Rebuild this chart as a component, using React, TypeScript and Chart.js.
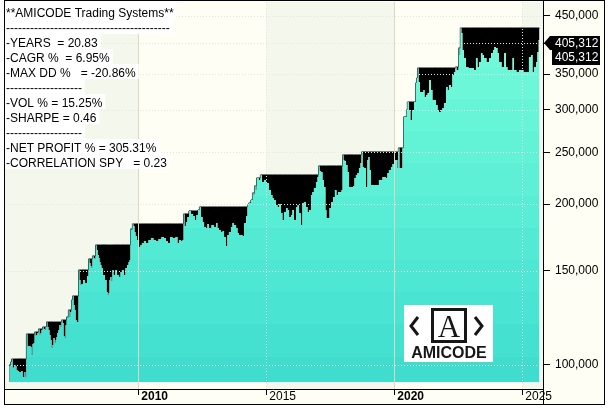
import React, { useEffect, useRef } from "react";
import { Chart, registerables } from "chart.js";

Chart.register(...registerables);

const FONT = "'Liberation Sans', Arial, Helvetica, sans-serif";
Chart.defaults.font.family = FONT;
Chart.defaults.font.size = 12;
Chart.defaults.color = "#000";

// ---- data (decimal year, equity value) ----
const dates: number[] = [
  2004.95, 2004.97, 2004.99, 2005.03, 2005.07, 2005.11, 2005.15, 2005.18, 2005.22, 2005.26, 2005.30, 2005.38, 2005.46, 2005.50, 2005.54, 2005.57, 2005.61, 2005.65,
  2005.69, 2005.77, 2005.81, 2005.85, 2005.89, 2005.93, 2005.97, 2006.00, 2006.04, 2006.08, 2006.12, 2006.16, 2006.20, 2006.24, 2006.28, 2006.32, 2006.36, 2006.40, 2006.43,
  2006.47, 2006.51, 2006.55, 2006.59, 2006.63, 2006.67, 2006.71, 2006.75, 2006.79, 2006.82, 2006.86, 2006.90, 2006.94, 2006.98, 2007.02,
  2007.06, 2007.10, 2007.14, 2007.18, 2007.22, 2007.25, 2007.29, 2007.33, 2007.37, 2007.41, 2007.45, 2007.49, 2007.53, 2007.57, 2007.61, 2007.65,
  2007.68, 2007.72, 2007.76, 2007.80, 2007.88, 2007.96, 2008.04, 2008.07, 2008.11, 2008.15, 2008.19, 2008.23, 2008.27, 2008.31, 2008.35,
  2008.39, 2008.43, 2008.47, 2008.50, 2008.54, 2008.58, 2008.66, 2008.74, 2008.78, 2008.82, 2008.86, 2008.89, 2008.93, 2008.97, 2009.01, 2009.05, 2009.13, 2009.21, 2009.29, 2009.32, 2009.40, 2009.48, 2009.52, 2009.60, 2009.64, 2009.68, 2009.71, 2009.75, 2009.79,
  2009.83, 2009.87, 2009.91, 2009.99, 2010.07, 2010.10, 2010.18, 2010.26, 2010.34, 2010.46, 2010.53, 2010.65, 2010.73, 2010.85, 2010.96, 2011.04, 2011.12, 2011.20, 2011.28, 2011.39, 2011.51, 2011.55, 2011.63, 2011.71, 2011.75, 2011.79, 2011.82, 2011.90, 2011.94, 2012.02, 2012.10, 2012.18, 2012.25, 2012.29, 2012.37, 2012.41,
  2012.49, 2012.53, 2012.61, 2012.68, 2012.72, 2012.80, 2012.92, 2013.00, 2013.07, 2013.11, 2013.19, 2013.27, 2013.31, 2013.39, 2013.46, 2013.50, 2013.58, 2013.66, 2013.70, 2013.78, 2013.86, 2013.89, 2013.97, 2014.05, 2014.09, 2014.17, 2014.25,
  2014.28, 2014.36, 2014.44, 2014.48, 2014.52, 2014.56, 2014.60, 2014.64, 2014.68, 2014.75, 2014.79, 2014.87, 2014.95, 2015.03, 2015.07, 2015.14, 2015.22, 2015.26, 2015.34, 2015.42, 2015.46, 2015.54, 2015.61, 2015.65, 2015.73, 2015.81, 2015.85, 2015.93,
  2016.00, 2016.04, 2016.12, 2016.20, 2016.24, 2016.32, 2016.39, 2016.43, 2016.51, 2016.59, 2016.63, 2016.71, 2016.78, 2016.82, 2016.90, 2016.98, 2017.02, 2017.06,
  2017.10, 2017.18, 2017.21, 2017.29, 2017.33, 2017.37, 2017.45, 2017.49, 2017.57, 2017.64, 2017.72, 2017.76, 2017.84, 2017.92, 2017.96,
  2018.00, 2018.03, 2018.07, 2018.15, 2018.19, 2018.27, 2018.35, 2018.43, 2018.46, 2018.54, 2018.58, 2018.66, 2018.70, 2018.74, 2018.78, 2018.86, 2018.93, 2018.97,
  2019.01, 2019.05, 2019.13, 2019.25, 2019.36, 2019.44, 2019.52, 2019.56, 2019.64, 2019.71, 2019.75, 2019.83, 2019.91, 2019.95,
  2020.03, 2020.10, 2020.14, 2020.18, 2020.22, 2020.30, 2020.34, 2020.38, 2020.46, 2020.49, 2020.53, 2020.61, 2020.65, 2020.73, 2020.81, 2020.85, 2020.89, 2020.93, 2020.96,
  2021.04, 2021.12, 2021.16, 2021.20, 2021.28, 2021.32, 2021.39, 2021.47, 2021.51, 2021.59, 2021.67, 2021.71, 2021.78, 2021.86, 2021.90, 2021.98,
  2022.06, 2022.10, 2022.17, 2022.25, 2022.29, 2022.37, 2022.41, 2022.45, 2022.49, 2022.53, 2022.56, 2022.60,
  2022.64, 2022.68, 2022.76, 2022.84, 2022.95, 2023.07, 2023.15, 2023.23, 2023.27, 2023.35, 2023.42, 2023.46, 2023.54, 2023.66, 2023.74, 2023.82, 2023.89, 2023.93,
  2024.01, 2024.05, 2024.13, 2024.25, 2024.32, 2024.40, 2024.44, 2024.52, 2024.60, 2024.64, 2024.71, 2024.83, 2024.91, 2024.99,
  2025.10, 2025.22, 2025.30, 2025.38, 2025.42, 2025.50, 2025.57, 2025.61, 2025.67,
];

const equity: number[] = [
  100000, 93000, 99570, 101300, 102620, 98720, 99140, 100000, 99570, 97870, 97450, 97030, 97450, 94960, 94960, 97030, 94960, 114280,
  108530, 108530, 108060, 104400, 109460, 109940, 115270, 113300, 113790, 114780, 116770, 113790, 114780, 116270, 117780, 116770, 116270, 117780, 120350,
  117780, 116270, 113790, 111370, 107590, 108990, 112330, 109940, 111370, 112820, 114780, 116270, 118800, 117780, 121390,
  119830, 113300, 112330, 118800, 122970, 122440, 126730, 122970, 125640, 132310, 134610, 129490, 126730, 121390, 120350, 120350,
  150560, 144210, 141140, 141750, 144210, 142360, 146710, 157870, 155170, 153170, 151860, 159920, 158550, 157870, 167680,
  164110, 160610, 158550, 155840, 153840, 151860, 147350, 144210, 136940, 135190, 136350, 144210, 146080, 143590, 150560, 147350, 150560, 147350, 146080, 149260, 150560, 147350, 151860, 153840, 155840, 157190, 179640, 178870, 183560,
  181980, 177340, 174310, 171330, 166240, 167680, 169130, 170590, 169130, 171330, 172810, 171330, 170590, 172070, 173560, 172810, 170590, 169130, 173560, 172810, 173560, 169130, 171330, 170590, 171330, 191640, 181980, 185150, 189190, 194130, 191640, 190000, 186750, 190810, 194970, 197510,
  189190, 185150, 181200, 180420, 183560, 180420, 182770, 181200, 184350, 180420, 178870, 177340, 178100, 173560, 166960, 175060, 177340, 181200, 184350, 182770, 180420, 176580, 175060, 175060, 174310, 184350, 190000,
  199210, 200940, 203550, 209790, 207980, 216210, 212510, 223790, 223790, 221870, 226700, 219970, 221870, 219020, 219020, 212510, 207980, 205310, 203550, 199210, 197510, 200070, 192460, 186750, 193290, 196660, 194970, 189190,
  190810, 194970, 186750, 197510, 199210, 192460, 182770, 200940, 201800, 197510, 193290, 194970, 207980, 210690, 214350, 219970, 224760, 235660,
  230640, 229650, 221870, 215270, 194970, 188400, 188400, 196660, 201800, 206200, 212510, 207980, 210690, 210690, 212510,
  247100, 241830, 240790, 236680, 229650, 215270, 215270, 216210, 223790, 226700, 228660, 233630, 238730, 250320, 234640, 233630, 215270, 241830,
  244970, 231630, 217140, 217140, 217140, 221870, 221870, 224760, 224760, 223790, 228660, 231630, 234640, 237700,
  241830, 241830, 233630, 254680, 233630, 233630, 254680, 291030, 291030, 299950, 310380, 299950, 287300, 299950, 310380, 336860, 344180, 359340, 338320,
  324040, 324040, 326930, 317140, 319970, 322650, 341320, 326930, 313150, 313150, 306480, 299950, 297370, 299950, 302470, 309050,
  331090, 326930, 334050, 331090, 348750, 353190, 360890, 356350, 356350, 391660, 380130, 426890,
  417800, 388400, 375130, 360890, 359340, 359340, 356350, 375130, 360890, 368730, 383320, 380130, 375130, 368730, 375130, 383320, 388400, 393350,
  391660, 383320, 368730, 360890, 383320, 360890, 356350, 356350, 356350, 375130, 356350, 353190, 356350, 356350,
  353190, 353190, 376750, 380130, 353190, 360890, 368730, 384970, 405312,
];

const xTickYears = [2010, 2015, 2020, 2025];
const yTickValues = [100000, 150000, 200000, 250000, 300000, 350000, 400000, 450000];
const hiddenYLabel = 400000;
const baselineValue = 92900;

const statsLines = [
  "**AMICODE Trading Systems**",
  "-----------------------------------------",
  "-YEARS  = 20.83",
  "-CAGR %  = 6.95%",
  "-MAX DD %   = -20.86%",
  "-------------------",
  "-VOL % = 15.25%",
  "-SHARPE = 0.46",
  "-------------------",
  "-NET PROFIT % = 305.31%",
  "-CORRELATION SPY   = 0.23",
];
const logoText = "AMICODE";

const X_MIN = 2004.793;
const X_MAX = 2025.809;
const Y_MIN = 90180;
const Y_MAX = 477460;

const IVORY = "#FEFEF4";
const GREENBG = "#F4F7EC";
const GRID_UNDER = "#C4C4C4";
const GRID_OVER = "#E4E4E4";
const MAJOR_LINE = "rgb(222,214,190)";
const TURQ = ["#40DCCE", "#44E0D0", "#49E4D2", "#4EE7D3", "#53EAD4", "#58EDD5", "#5DF0D6", "#62F3D7", "#67F5D8", "#6CF7D8", "#70F9D9", "#74FADA"];

const n = Math.min(dates.length, equity.length);
const eqPoints = [] as { x: number; y: number }[];
const peakPoints = [] as { x: number; y: number }[];
let runMax = 0;
for (let i = 0; i < n; i++) {
  runMax = Math.max(runMax, equity[i]);
  eqPoints.push({ x: dates[i], y: equity[i] });
  peakPoints.push({ x: dates[i], y: runMax });
}
const lastValue = equity[n - 1];
const lastText = lastValue.toLocaleString("en-US");

function drawGrid(chart: any, over: boolean) {
  const { ctx, chartArea: a, scales } = chart;
  const xs = scales.x;
  const ys = scales.y;
  ctx.save();
  ctx.beginPath();
  ctx.rect(a.left, a.top, a.right - a.left, a.bottom - a.top);
  ctx.clip();
  ctx.lineWidth = 1;
  ctx.setLineDash([1, 2]);
  if (over) ctx.globalCompositeOperation = "lighten";
  ctx.strokeStyle = over ? GRID_OVER : GRID_UNDER;
  ctx.beginPath();
  for (const v of yTickValues) {
    const y = Math.round(ys.getPixelForValue(v)) + 0.5;
    ctx.moveTo(a.left, y);
    ctx.lineTo(a.right, y);
  }
  for (const yr of xTickYears) {
    if (yr % 10 === 0) continue;
    const x = Math.round(xs.getPixelForValue(yr)) + 0.5;
    ctx.moveTo(x, a.top);
    ctx.lineTo(x, a.bottom);
  }
  ctx.stroke();
  ctx.globalCompositeOperation = "source-over";
  if (over) {
    ctx.setLineDash([]);
    ctx.strokeStyle = MAJOR_LINE;
    ctx.beginPath();
    for (const yr of xTickYears) {
      if (yr % 10 !== 0) continue;
      const x = Math.round(xs.getPixelForValue(yr)) + 0.5;
      ctx.moveTo(x, a.top);
      ctx.lineTo(x, a.bottom);
    }
    ctx.stroke();
  }
  ctx.restore();
}

const amiPlugin = {
  id: "amiPlugin",
  beforeDraw(chart: any) {
    const { ctx, chartArea: a, scales } = chart;
    const xs = scales.x;
    ctx.save();
    ctx.fillStyle = "#FFFFFF";
    ctx.fillRect(0, 0, chart.width, chart.height);
    ctx.fillStyle = IVORY;
    ctx.fillRect(4, 0, 601, 405);
    const edges = [X_MIN, ...xTickYears, X_MAX];
    for (let i = 0; i < edges.length - 1; i++) {
      const x0 = Math.round(xs.getPixelForValue(edges[i]));
      const x1 = Math.round(xs.getPixelForValue(edges[i + 1]));
      ctx.fillStyle = i % 2 === 0 ? GREENBG : IVORY;
      ctx.fillRect(x0, a.top, x1 - x0, a.bottom - a.top);
    }
    ctx.restore();
  },
  beforeDatasetsDraw(chart: any) {
    drawGrid(chart, false);
  },
  afterDatasetsDraw(chart: any) {
    drawGrid(chart, true);
  },
  afterDraw(chart: any) {
    const { ctx, chartArea: a, scales } = chart;
    const ys = scales.y;
    ctx.save();
    // frame and axis lines
    ctx.strokeStyle = "#000";
    ctx.lineWidth = 1;
    ctx.strokeRect(4.5, 0.5, 600, 404);
    ctx.beginPath();
    ctx.moveTo(a.right + 0.5, 0);
    ctx.lineTo(a.right + 0.5, 405);
    ctx.moveTo(4, a.bottom + 0.5);
    ctx.lineTo(a.right, a.bottom + 0.5);
    ctx.stroke();

    // stats text box
    ctx.font = `12px ${FONT}`;
    ctx.textAlign = "left";
    ctx.textBaseline = "alphabetic";
    statsLines.forEach((t, i) => {
      const w = ctx.measureText(t).width;
      const top = i === 0 ? 1 : 4 + 15 * i;
      const bottom = 4 + 15 * (i + 1);
      ctx.fillStyle = "#FFFFFF";
      ctx.fillRect(5, top, w + 4, bottom - top);
    });
    ctx.fillStyle = "#000";
    statsLines.forEach((t, i) => {
      ctx.fillText(t, 6, 17 + 15 * i);
    });

    // logo
    ctx.fillStyle = "#FFFFFF";
    ctx.fillRect(404, 305, 89, 57);
    ctx.strokeStyle = "#161616";
    ctx.fillStyle = "#161616";
    ctx.lineWidth = 3;
    ctx.lineJoin = "miter";
    ctx.beginPath();
    ctx.moveTo(418, 317);
    ctx.lineTo(411, 326);
    ctx.lineTo(418, 335);
    ctx.stroke();
    ctx.beginPath();
    ctx.moveTo(475, 317);
    ctx.lineTo(482, 326);
    ctx.lineTo(475, 335);
    ctx.stroke();
    ctx.strokeRect(432.5, 309.5, 33, 32);
    ctx.font = "31px 'Liberation Serif', 'DejaVu Serif', serif";
    ctx.textAlign = "center";
    ctx.fillText("A", 449, 337);
    ctx.font = `bold 16px ${FONT}`;
    ctx.fillText(logoText, 449, 358);

    // last value labels
    const yv = Math.round(ys.getPixelForValue(lastValue)) + 3;
    const x0 = a.right + 1;
    ctx.fillStyle = "#000";
    ctx.beginPath();
    ctx.moveTo(x0, yv);
    ctx.lineTo(x0 + 6, yv - 7);
    ctx.lineTo(600, yv - 7);
    ctx.lineTo(600, yv + 7);
    ctx.lineTo(x0 + 6, yv + 7);
    ctx.closePath();
    ctx.fill();
    ctx.fillRect(x0 + 8, yv + 7, 600 - (x0 + 8), 15);
    ctx.fillStyle = "#FFFFFF";
    ctx.font = `12px ${FONT}`;
    ctx.textAlign = "left";
    ctx.textBaseline = "middle";
    ctx.fillText(lastText, 555, yv + 1);
    ctx.fillText(lastText, 555, yv + 15);
    ctx.restore();
  },
};

export default function App() {
  const ref = useRef<HTMLCanvasElement>(null);
  useEffect(() => {
    document.body.style.margin = "0";
    const canvas = ref.current;
    if (!canvas) return;
    const chart = new Chart(canvas, {
      type: "line",
      data: {
        datasets: [
          {
            label: "Equity",
            data: eqPoints,
            borderWidth: 0,
            pointRadius: 0,
            stepped: "middle",
            fill: { value: baselineValue },
            backgroundColor: (c: any) => {
              const ch = c.chart;
              const a = ch.chartArea;
              if (!a) return TURQ[0];
              const g = ch.ctx.createLinearGradient(0, a.bottom, 0, a.top);
              const k = TURQ.length;
              TURQ.forEach((col, i) => {
                g.addColorStop(i / k, col);
                g.addColorStop((i + 1) / k, col);
              });
              return g;
            },
          },
          {
            label: "Peak",
            data: peakPoints,
            borderWidth: 1,
            borderColor: "#000",
            pointRadius: 0,
            stepped: "middle",
            fill: "-1",
            backgroundColor: "#000",
          },
        ],
      },
      options: {
        animation: false,
        responsive: false,
        devicePixelRatio: 1,
        layout: { padding: { left: 5, top: 2, right: 4, bottom: 4 } },
        plugins: {
          legend: { display: false },
          tooltip: { enabled: false },
          title: { display: false },
        },
        scales: {
          x: {
            type: "linear",
            position: "bottom",
            min: X_MIN,
            max: X_MAX,
            afterBuildTicks: (s: any) => {
              s.ticks = xTickYears.map((v) => ({ value: v }));
            },
            afterFit: (s: any) => {
              s.height = 15;
              s.paddingLeft = 0;
              s.paddingRight = 0;
            },
            border: { display: false },
            grid: { display: true, drawOnChartArea: false, drawTicks: true, tickLength: 6, tickColor: "#000" },
            ticks: {
              autoSkip: false,
              maxRotation: 0,
              align: "start",
              labelOffset: 3,
              padding: -6,
              color: "#000",
              font: (c: any) => ({
                family: FONT,
                size: 12,
                weight: c.tick && c.tick.value % 10 === 0 ? "bold" : "normal",
              }),
              callback: (v: any) => String(v),
            },
          },
          y: {
            type: "logarithmic",
            position: "right",
            min: Y_MIN,
            max: Y_MAX,
            afterBuildTicks: (s: any) => {
              s.ticks = yTickValues.map((v) => ({ value: v }));
            },
            afterFit: (s: any) => {
              s.width = 61;
              s.paddingTop = 0;
              s.paddingBottom = 0;
            },
            border: { display: false },
            grid: { display: true, drawOnChartArea: false, drawTicks: true, tickLength: 7, tickColor: "#000" },
            ticks: {
              autoSkip: false,
              padding: 5,
              color: "#000",
              font: { family: FONT, size: 12 },
              callback: (v: any) => (Number(v) === hiddenYLabel ? "" : Number(v).toLocaleString("en-US")),
            },
          },
        },
      },
      plugins: [amiPlugin],
    } as any);
    return () => chart.destroy();
  }, []);
  return (
    <div style={{ width: 608, height: 408 }}>
      <canvas ref={ref} width={608} height={408} style={{ display: "block" }} />
    </div>
  );
}
